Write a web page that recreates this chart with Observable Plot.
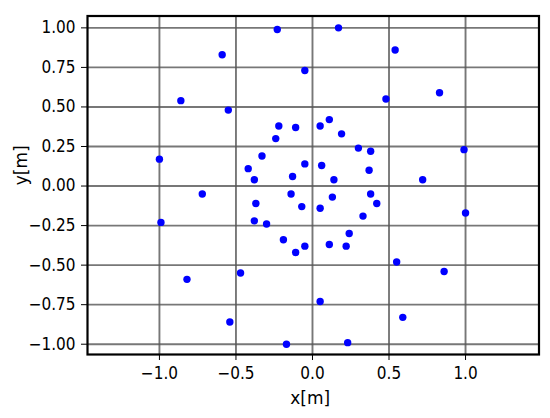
<!DOCTYPE html>
<html>
<head>
<meta charset="utf-8">
<script src="https://cdn.jsdelivr.net/npm/d3@7"></script>
<script src="https://cdn.jsdelivr.net/npm/@observablehq/plot@0.6"></script>
<style>
  html, body { margin: 0; padding: 0; background: #fff; }
</style>
</head>
<body>
<div id="chart"></div>
<script>
// Outer ring
const outerX = [-0.23, 0.17, -0.59, 0.54, -0.05, -0.86, -0.55, 0.48, 0.83, 0.99, -1.00, 0.72, -0.72, 1.00, -0.99, 0.55, -0.82, -0.47, 0.86, 0.05, -0.54, 0.59, -0.17, 0.23];
const outerY = [0.99, 1.00, 0.83, 0.86, 0.73, 0.54, 0.48, 0.55, 0.59, 0.23, 0.17, 0.04, -0.05, -0.17, -0.23, -0.48, -0.59, -0.55, -0.54, -0.73, -0.86, -0.83, -1.00, -0.99];
// Middle ring
const middleX = [-0.22, -0.11, 0.05, 0.11, 0.19, -0.24, 0.30, 0.38, -0.33, -0.42, -0.38, 0.37, 0.38, 0.42, -0.37, 0.33, -0.38, -0.30, 0.24, -0.19, 0.11, 0.22, -0.05, -0.11];
const middleY = [0.38, 0.37, 0.38, 0.42, 0.33, 0.30, 0.24, 0.22, 0.19, 0.11, 0.04, 0.10, -0.05, -0.11, -0.11, -0.19, -0.22, -0.24, -0.30, -0.34, -0.37, -0.38, -0.38, -0.42];
// Inner ring
const innerX = [-0.05, 0.06, -0.13, 0.14, -0.14, 0.13, -0.07, 0.05];
const innerY = [0.14, 0.13, 0.06, 0.04, -0.05, -0.07, -0.13, -0.14];

const xTicks = [-1.0, -0.5, 0.0, 0.5, 1.0];
const yTicks = [-1.0, -0.75, -0.5, -0.25, 0.0, 0.25, 0.5, 0.75, 1.0];
const xLabel = "x[m]";
const yLabel = "y[m]";

const allX = [...outerX, ...middleX, ...innerX];
const allY = [...outerY, ...middleY, ...innerY];
const points = allX.map((x, i) => ({x, y: allY[i]}));

const tickFont = "'DejaVu Sans Condensed', 'DejaVu Sans', sans-serif";
const labelFont = "'DejaVu Sans', sans-serif";

const chart = Plot.plot({
  width: 550,
  height: 418,
  marginLeft: 87,
  marginRight: 11.5,
  marginTop: 15.5,
  marginBottom: 64,
  style: {fontFamily: tickFont, fontSize: "17px", background: "#fff", color: "#000"},
  x: {domain: [-1.47, 1.48]},
  y: {domain: [-1.065, 1.075]},
  marks: [
    Plot.gridX(xTicks, {stroke: "#555", strokeOpacity: 0.8, strokeWidth: 1.9}),
    Plot.gridY(yTicks, {stroke: "#555", strokeOpacity: 0.8, strokeWidth: 1.9}),
    Plot.dot(points, {x: "x", y: "y", r: 3.7, fill: "#0000ff", stroke: "none"}),
    Plot.frame({stroke: "#000", strokeWidth: 2.2}),
    Plot.axisX(xTicks, {
      tickFormat: d3.format(".1f"), tickSize: 6, tickPadding: 6, fontSize: 17,
      fontFamily: tickFont, label: null
    }),
    Plot.axisY(yTicks, {
      tickFormat: d3.format(".2f"), tickSize: 6, tickPadding: 6, fontSize: 17,
      fontFamily: tickFont, label: null
    }),
    Plot.text([xLabel], {
      text: d => d, frameAnchor: "bottom", dy: 49, dx: -3,
      fontFamily: labelFont, fontSize: 17, fill: "#000"
    }),
    Plot.text([yLabel], {
      text: d => d, frameAnchor: "left", dx: -66, rotate: -90,
      fontFamily: labelFont, fontSize: 17, fill: "#000"
    })
  ]
});
document.getElementById("chart").appendChild(chart);
</script>
</body>
</html>
